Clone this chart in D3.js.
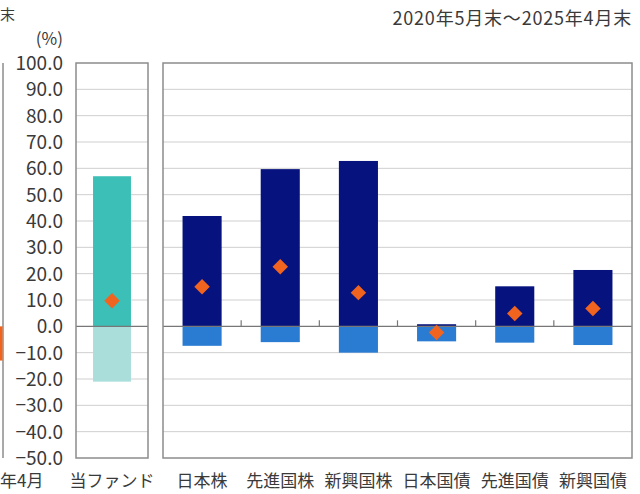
<!DOCTYPE html>
<html><head><meta charset="utf-8">
<script src="https://cdn.jsdelivr.net/npm/d3@7"></script>
<style>body{margin:0;background:#fff}svg{display:block}text{font-family:"Noto Sans CJK JP","Noto Sans",sans-serif}</style>
</head><body><svg id="c" width="640" height="494"></svg>
<script>
const fundCat = ["当ファンド"];
const fundMax = [57.0];
const fundMin = [-21.0];
const fundAvg = [9.7];
const assetCats = ["日本株","先進国株","新興国株","日本国債","先進国債","新興国債"];
const assetMax = [41.9, 59.7, 62.8, 0.8, 15.2, 21.4];
const assetMin = [-7.4, -6.0, -10.0, -5.7, -6.2, -7.1];
const assetAvg = [15.0, 22.6, 12.8, -2.3, 4.9, 6.8];
const yTicks = [100,90,80,70,60,50,40,30,20,10,0,-10,-20,-30,-40,-50];
const periodLabel = "2020年5月末～2025年4月末";
const unitLabel = "(%)";

const svg = d3.select("#c");
const y = d3.scaleLinear().domain([-50,100]).range([458,63]);
const xF = d3.scaleBand().domain(fundCat).range([76,148]).padding(0.31);
const xA = d3.scaleBand().domain(assetCats).range([163,632]).paddingInner(0.5).paddingOuter(0.25);

const col = {navy:"#06137e", blue:"#2a7cd2", teal:"#3bbfb6", lteal:"#a9dedb", orange:"#f0641f", grid:"#cfcfcf", frame:"#8c8c8c", zero:"#777", text:"#3a3a3a"};

// partial left neighbour chart
svg.append("line").attr("x1",3).attr("x2",3).attr("y1",y(100)).attr("y2",y(-50)).attr("stroke",col.frame).attr("stroke-width",1.5);
svg.append("rect").attr("x",0).attr("width",2.5).attr("y",y(0)).attr("height",y(-13)-y(0)).attr("fill",col.orange);
svg.append("text").attr("x",0).attr("y",20).attr("font-size",15).attr("fill",col.text).text("末");
svg.append("text").attr("x",0).attr("y",487).attr("font-size",17).attr("fill",col.text).text("年4月");

// title and unit
svg.append("text").attr("x",632).attr("y",25).attr("text-anchor","end").attr("font-size",18).attr("letter-spacing",0.8).attr("fill",col.text).text(periodLabel);
svg.append("text").attr("x",63).attr("y",45).attr("text-anchor","end").attr("font-size",17).attr("fill",col.text).text(unitLabel);

// y axis labels
const yAxis = d3.axisLeft(y).tickValues(yTicks).tickFormat(d3.format(".1f")).tickSize(0).tickPadding(0);
const ga = svg.append("g").attr("transform","translate(63,0)").call(yAxis);
ga.select(".domain").remove();
ga.selectAll("text").attr("font-size",19).attr("fill",col.text).attr("font-family","'Noto Sans CJK JP',sans-serif").attr("dy","0.35em");

function panel(x0,x1,xs,cats,maxV,minV,avgV,cUp,cDn,ticks){
  const g = svg.append("g");
  g.selectAll("line.grid").data(yTicks.filter(d=>d!==0 && d!==100 && d!==-50)).join("line")
    .attr("x1",x0).attr("x2",x1).attr("y1",d=>y(d)).attr("y2",d=>y(d)).attr("stroke",col.grid).attr("stroke-width",1);
  g.selectAll("rect.up").data(cats).join("rect")
    .attr("x",d=>xs(d)).attr("width",xs.bandwidth())
    .attr("y",(d,i)=>y(Math.max(0,maxV[i]))).attr("height",(d,i)=>Math.abs(y(Math.max(0,maxV[i]))-y(0)))
    .attr("fill",cUp);
  g.selectAll("rect.dn").data(cats).join("rect")
    .attr("x",d=>xs(d)).attr("width",xs.bandwidth())
    .attr("y",(d,i)=>y(Math.min(0,maxV[i]))).attr("height",(d,i)=>y(minV[i])-y(Math.min(0,maxV[i])))
    .attr("fill",cDn);
  g.append("line").attr("x1",x0).attr("x2",x1).attr("y1",y(0)).attr("y2",y(0)).attr("stroke",col.zero).attr("stroke-width",1.2);
  if(ticks){
    const st = xs.step();
    g.selectAll("line.tk").data(cats.slice(1)).join("line")
      .attr("x1",d=>xs(d)-st*xs.paddingInner()/2).attr("x2",d=>xs(d)-st*xs.paddingInner()/2)
      .attr("y1",y(0)).attr("y2",y(0)-6).attr("stroke",col.zero).attr("stroke-width",1.2);
  }
  const sym = d3.symbol().type(d3.symbolSquare).size(120);
  g.selectAll("path.avg").data(cats).join("path")
    .attr("d",sym)
    .attr("transform",(d,i)=>`translate(${xs(d)+xs.bandwidth()/2},${y(avgV[i])}) rotate(45)`)
    .attr("fill",col.orange);
  g.append("rect").attr("x",x0).attr("y",y(100)).attr("width",x1-x0).attr("height",y(-50)-y(100))
    .attr("fill","none").attr("stroke",col.frame).attr("stroke-width",1.5);
  g.selectAll("text.cat").data(cats).join("text")
    .attr("x",d=>xs(d)+xs.bandwidth()/2).attr("y",487).attr("text-anchor","middle")
    .attr("font-size",17).attr("fill",col.text).text(d=>d);
}
panel(76,148,xF,fundCat,fundMax,fundMin,fundAvg,col.teal,col.lteal,false);
panel(163,632,xA,assetCats,assetMax,assetMin,assetAvg,col.navy,col.blue,true);
</script></body></html>
